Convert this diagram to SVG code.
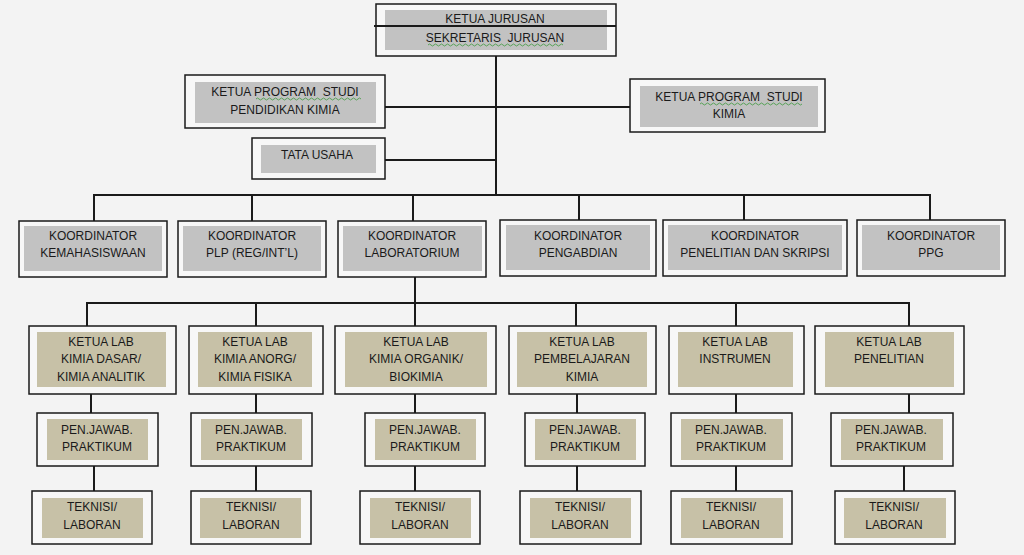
<svg xmlns="http://www.w3.org/2000/svg" width="1024" height="555" viewBox="0 0 1024 555">
<style>
.outer{fill:#f7f7f7;stroke:#1a1a1a;stroke-width:1.5}
.gray{fill:#c2c2c2}
.tan{fill:#c7c1a7}
.t{font-family:"Liberation Sans",Arial,sans-serif;font-size:12px;fill:#1a1a1a;text-anchor:middle;dominant-baseline:central;white-space:pre}
.c{stroke:#1a1a1a;stroke-width:2;fill:none}
.sq{stroke:#3c9a3c;stroke-width:0.8;fill:none}
</style>
<rect width="1024" height="555" fill="#f3f3f3"/>
<g id="connectors">
<path class="c" d="M496 43V195"/>
<path class="c" d="M385 107H630"/>
<path class="c" d="M385 160H496"/>
<path class="c" d="M94 221V195H930V220"/>
<path class="c" d="M252 195V221M413 195V221M579 195V220M744 195V220"/>
<path class="c" d="M415 277V326"/>
<path class="c" d="M87 326V303H909V326"/>
<path class="c" d="M256 303V326M576 303V326M736 303V326"/>
<path class="c" d="M91 394V413M94 466V491"/>
<path class="c" d="M256 394V491"/>
<path class="c" d="M415 394V491"/>
<path class="c" d="M577 394V491"/>
<path class="c" d="M736 394V491"/>
<path class="c" d="M909 394V413M904 466V491"/>
</g>
<g id="ketua-jurusan">
<rect class="outer" x="376" y="4" width="240" height="52"/>
<rect class="gray" x="385" y="10" width="222" height="40"/>
<text class="t" x="495" y="19">KETUA JURUSAN</text>
<text class="t" x="495" y="38" xml:space="preserve">SEKRETARIS  JURUSAN</text>
<path class="sq" d="M428 45q1.5-2 3 0t3 0t3 0t3 0t3 0t3 0t3 0t3 0t3 0t3 0t3 0t3 0t3 0t3 0t3 0t3 0t3 0t3 0t3 0t3 0t3 0t3 0t3 0t3 0t3 0t3 0t3 0t3 0t3 0t3 0t3 0t3 0t3 0t3 0t3 0t3 0t3 0t3 0t3 0t3 0t3 0t3 0t3 0t3 0t3 0"/>
<path class="c" d="M374 26H616"/>
</g>
<g id="kaprodi-pendidikan">
<rect class="outer" x="185" y="75" width="200" height="53"/>
<rect class="gray" x="195" y="82" width="181" height="41"/>
<text class="t" x="285" y="92" xml:space="preserve">KETUA PROGRAM  STUDI</text>
<text class="t" x="285" y="110">PENDIDIKAN KIMIA</text>
<path class="sq" d="M256 99q1.5-2 3 0t3 0t3 0t3 0t3 0t3 0t3 0t3 0t3 0t3 0t3 0t3 0t3 0t3 0t3 0t3 0t3 0t3 0t3 0t3 0t3 0t3 0t3 0t3 0t3 0t3 0t3 0t3 0t3 0t3 0t3 0t3 0t3 0t3 0t3 0"/>
</g>
<g id="kaprodi-kimia">
<rect class="outer" x="630" y="79" width="195" height="53"/>
<rect class="gray" x="640" y="86" width="178" height="41"/>
<text class="t" x="729" y="97" xml:space="preserve">KETUA PROGRAM  STUDI</text>
<text class="t" x="729" y="114">KIMIA</text>
<path class="sq" d="M700 104q1.5-2 3 0t3 0t3 0t3 0t3 0t3 0t3 0t3 0t3 0t3 0t3 0t3 0t3 0t3 0t3 0t3 0t3 0t3 0t3 0t3 0t3 0t3 0t3 0t3 0t3 0t3 0t3 0t3 0t3 0t3 0t3 0t3 0t3 0t3 0"/>
</g>
<g id="tata-usaha">
<rect class="outer" x="252" y="138" width="133" height="41"/>
<rect class="gray" x="261" y="145" width="115" height="28"/>
<text class="t" x="317" y="155">TATA USAHA</text>
</g>
<g id="koord-kemahasiswaan">
<rect class="outer" x="19" y="221" width="148" height="56"/>
<rect class="gray" x="24" y="226" width="138" height="45"/>
<text class="t" x="93" y="236">KOORDINATOR</text>
<text class="t" x="93" y="253">KEMAHASISWAAN</text>
</g>
<g id="koord-plp">
<rect class="outer" x="178" y="221" width="148" height="56"/>
<rect class="gray" x="183" y="226" width="138" height="45"/>
<text class="t" x="252" y="236">KOORDINATOR</text>
<text class="t" x="252" y="253">PLP (REG/INT’L)</text>
</g>
<g id="koord-lab">
<rect class="outer" x="338" y="221" width="148" height="56"/>
<rect class="gray" x="343" y="226" width="139" height="45"/>
<text class="t" x="412" y="236">KOORDINATOR</text>
<text class="t" x="412" y="253">LABORATORIUM</text>
</g>
<g id="koord-pengabdian">
<rect class="outer" x="500" y="220" width="156" height="56"/>
<rect class="gray" x="506" y="225" width="144" height="45"/>
<text class="t" x="578" y="236">KOORDINATOR</text>
<text class="t" x="578" y="253">PENGABDIAN</text>
</g>
<g id="koord-penelitian">
<rect class="outer" x="663" y="220" width="184" height="56"/>
<rect class="gray" x="668" y="225" width="174" height="45"/>
<text class="t" x="755" y="236">KOORDINATOR</text>
<text class="t" x="755" y="253">PENELITIAN DAN SKRIPSI</text>
</g>
<g id="koord-ppg">
<rect class="outer" x="857" y="220" width="148" height="56"/>
<rect class="gray" x="862" y="225" width="138" height="45"/>
<text class="t" x="931" y="236">KOORDINATOR</text>
<text class="t" x="931" y="253">PPG</text>
</g>
<g id="lab-dasar">
<rect class="outer" x="29" y="326" width="147" height="68"/>
<rect class="tan" x="37" y="332" width="129" height="55"/>
<text class="t" x="101" y="342">KETUA LAB</text>
<text class="t" x="101" y="359">KIMIA DASAR/</text>
<text class="t" x="101" y="377">KIMIA ANALITIK</text>
</g>
<g id="lab-anorg">
<rect class="outer" x="189" y="326" width="134" height="68"/>
<rect class="tan" x="198" y="332" width="114" height="55"/>
<text class="t" x="255" y="342">KETUA LAB</text>
<text class="t" x="255" y="359">KIMIA ANORG/</text>
<text class="t" x="255" y="377">KIMIA FISIKA</text>
</g>
<g id="lab-organik">
<rect class="outer" x="335" y="326" width="161" height="68"/>
<rect class="tan" x="345" y="332" width="142" height="55"/>
<text class="t" x="416" y="342">KETUA LAB</text>
<text class="t" x="416" y="359">KIMIA ORGANIK/</text>
<text class="t" x="416" y="377">BIOKIMIA</text>
</g>
<g id="lab-pembelajaran">
<rect class="outer" x="509" y="326" width="147" height="68"/>
<rect class="tan" x="517" y="332" width="130" height="55"/>
<text class="t" x="582" y="342">KETUA LAB</text>
<text class="t" x="582" y="359">PEMBELAJARAN</text>
<text class="t" x="582" y="377">KIMIA</text>
</g>
<g id="lab-instrumen">
<rect class="outer" x="669" y="326" width="135" height="68"/>
<rect class="tan" x="678" y="332" width="115" height="55"/>
<text class="t" x="735" y="342">KETUA LAB</text>
<text class="t" x="735" y="359">INSTRUMEN</text>
</g>
<g id="lab-penelitian">
<rect class="outer" x="815" y="326" width="149" height="68"/>
<rect class="tan" x="825" y="332" width="129" height="55"/>
<text class="t" x="889" y="342">KETUA LAB</text>
<text class="t" x="889" y="359">PENELITIAN</text>
</g>
<g id="pj-1">
<rect class="outer" x="37" y="413" width="121" height="53"/>
<rect class="tan" x="47" y="419" width="101" height="41"/>
<text class="t" x="97" y="430">PEN.JAWAB.</text>
<text class="t" x="97" y="447">PRAKTIKUM</text>
</g>
<g id="pj-2">
<rect class="outer" x="191" y="413" width="121" height="53"/>
<rect class="tan" x="201" y="419" width="101" height="41"/>
<text class="t" x="251" y="430">PEN.JAWAB.</text>
<text class="t" x="251" y="447">PRAKTIKUM</text>
</g>
<g id="pj-3">
<rect class="outer" x="365" y="413" width="120" height="53"/>
<rect class="tan" x="375" y="419" width="101" height="41"/>
<text class="t" x="425" y="430">PEN.JAWAB.</text>
<text class="t" x="425" y="447">PRAKTIKUM</text>
</g>
<g id="pj-4">
<rect class="outer" x="525" y="413" width="120" height="53"/>
<rect class="tan" x="535" y="419" width="101" height="41"/>
<text class="t" x="585" y="430">PEN.JAWAB.</text>
<text class="t" x="585" y="447">PRAKTIKUM</text>
</g>
<g id="pj-5">
<rect class="outer" x="671" y="413" width="121" height="53"/>
<rect class="tan" x="681" y="419" width="102" height="41"/>
<text class="t" x="731" y="430">PEN.JAWAB.</text>
<text class="t" x="731" y="447">PRAKTIKUM</text>
</g>
<g id="pj-6">
<rect class="outer" x="831" y="413" width="122" height="53"/>
<rect class="tan" x="841" y="419" width="102" height="41"/>
<text class="t" x="891" y="430">PEN.JAWAB.</text>
<text class="t" x="891" y="447">PRAKTIKUM</text>
</g>
<g id="tek-1">
<rect class="outer" x="32" y="491" width="120" height="53"/>
<rect class="tan" x="42" y="498" width="101" height="40"/>
<text class="t" x="92" y="507">TEKNISI/</text>
<text class="t" x="92" y="525">LABORAN</text>
</g>
<g id="tek-2">
<rect class="outer" x="191" y="491" width="120" height="53"/>
<rect class="tan" x="200" y="498" width="101" height="40"/>
<text class="t" x="251" y="507">TEKNISI/</text>
<text class="t" x="251" y="525">LABORAN</text>
</g>
<g id="tek-3">
<rect class="outer" x="360" y="491" width="120" height="53"/>
<rect class="tan" x="370" y="498" width="101" height="40"/>
<text class="t" x="420" y="507">TEKNISI/</text>
<text class="t" x="420" y="525">LABORAN</text>
</g>
<g id="tek-4">
<rect class="outer" x="520" y="491" width="121" height="53"/>
<rect class="tan" x="530" y="498" width="101" height="40"/>
<text class="t" x="580" y="507">TEKNISI/</text>
<text class="t" x="580" y="525">LABORAN</text>
</g>
<g id="tek-5">
<rect class="outer" x="671" y="491" width="121" height="53"/>
<rect class="tan" x="681" y="498" width="102" height="40"/>
<text class="t" x="731" y="507">TEKNISI/</text>
<text class="t" x="731" y="525">LABORAN</text>
</g>
<g id="tek-6">
<rect class="outer" x="835" y="491" width="120" height="53"/>
<rect class="tan" x="844" y="498" width="102" height="40"/>
<text class="t" x="894" y="507">TEKNISI/</text>
<text class="t" x="894" y="525">LABORAN</text>
</g>
</svg>
